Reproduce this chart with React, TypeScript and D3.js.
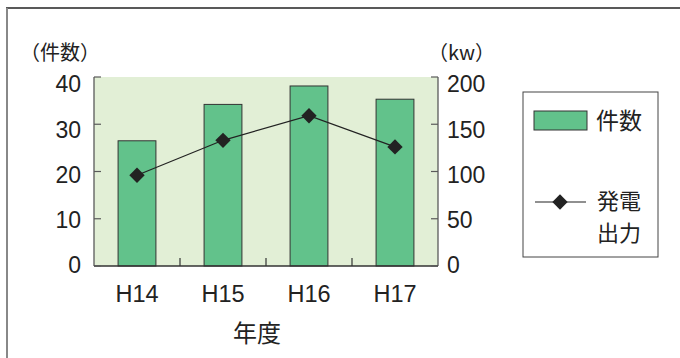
import React from "react";
import * as d3 from "d3";

// Fiscal years and the two series
const categories = ["H14", "H15", "H16", "H17"];
const counts = [26.5, 34.2, 38.1, 35.3]; // 件数
const output = [96, 133, 159, 126]; // 発電出力 (kw)
const leftTicks = [0, 10, 20, 30, 40];
const rightTicks = [0, 50, 100, 150, 200];

const W = 680;
const H = 358;
const plot = { left: 94, right: 438, top: 77, bottom: 266 };
const FONT = "'Liberation Sans', Arial, 'Noto Sans CJK JP', sans-serif";
const CJK = "'Noto Sans CJK JP', sans-serif";

export default function App() {
  const x = d3
    .scaleBand<string>()
    .domain(categories)
    .range([plot.left, plot.right])
    .paddingInner(0.56)
    .paddingOuter(0.28);
  const band = d3.scaleBand<string>().domain(categories).range([plot.left, plot.right]);
  const yL = d3.scaleLinear().domain([0, 40]).range([plot.bottom, plot.top]);
  const yR = d3.scaleLinear().domain([0, 200]).range([plot.bottom, plot.top]);
  // tick labels sit on a slightly compressed scale
  const labL = d3.scaleLinear().domain([0, 40]).range([265, 84]);
  const labR = d3.scaleLinear().domain([0, 200]).range([265, 84]);

  const cx = (c: string) => (band(c) as number) + band.bandwidth() / 2;
  const line = d3
    .line<number>()
    .x((_, i) => cx(categories[i]))
    .y((d) => yR(d));

  const diamond = d3.symbol().type(d3.symbolDiamond2).size(150)();
  const axisColor = "#5a5a5a";

  return (
    <div style={{ position: "absolute", left: 0, top: 0 }}>
      <svg width={W} height={H} style={{ display: "block", background: "#fff" }}>
        {/* outer frame */}
        <line x1={6} x2={W} y1={8} y2={8} stroke="#222" strokeWidth={1.4} />
        <line x1={7} x2={7} y1={8} y2={H} stroke="#888" strokeWidth={2} />

        {/* plot background */}
        <rect
          x={plot.left}
          y={plot.top}
          width={plot.right - plot.left}
          height={plot.bottom - plot.top}
          fill="#e2efd6"
        />

        {/* bars */}
        {counts.map((v, i) => (
          <rect
            key={categories[i]}
            x={x(categories[i])}
            y={yL(v)}
            width={x.bandwidth()}
            height={plot.bottom - yL(v)}
            fill="#62c28b"
            stroke="#333"
            strokeWidth={1}
          />
        ))}

        {/* axes */}
        <line x1={plot.left} x2={plot.left} y1={plot.top} y2={plot.bottom} stroke={axisColor} strokeWidth={1.3} />
        <line x1={plot.right} x2={plot.right} y1={plot.top} y2={plot.bottom} stroke={axisColor} strokeWidth={1.3} />
        <line x1={plot.left} x2={plot.right} y1={plot.bottom} y2={plot.bottom} stroke="#333" strokeWidth={1.3} />
        {leftTicks.map((t) => (
          <g key={"l" + t}>
            <line x1={plot.left} x2={plot.left + 7} y1={yL(t)} y2={yL(t)} stroke={axisColor} strokeWidth={1.2} />
            <text x={81} y={labL(t)} dy="0.36em" textAnchor="end" fontFamily={FONT} fontSize={23} fill="#222">
              {t}
            </text>
          </g>
        ))}
        {rightTicks.map((t) => (
          <g key={"r" + t}>
            <line x1={plot.right - 7} x2={plot.right} y1={yR(t)} y2={yR(t)} stroke={axisColor} strokeWidth={1.2} />
            <text x={447} y={labR(t)} dy="0.36em" textAnchor="start" fontFamily={FONT} fontSize={23} fill="#222">
              {t}
            </text>
          </g>
        ))}
        {categories.slice(1).map((c) => (
          <line
            key={"t" + c}
            x1={band(c)}
            x2={band(c)}
            y1={plot.bottom}
            y2={plot.bottom - 8}
            stroke="#333"
            strokeWidth={1.2}
          />
        ))}
        {categories.map((c) => (
          <text key={"c" + c} x={cx(c)} y={302} textAnchor="middle" fontFamily={FONT} fontSize={23.5} fill="#222">
            {c}
          </text>
        ))}

        {/* line series */}
        <path d={line(output) as string} fill="none" stroke="#222" strokeWidth={1.2} />
        {output.map((v, i) => (
          <path key={"p" + i} d={diamond as string} transform={`translate(${cx(categories[i])},${yR(v)})`} fill="#222" />
        ))}

        {/* axis titles */}
        <text x={20} y={53} dy="0.35em" fontFamily={CJK} fontSize={20} fill="#222">
          （件数）
        </text>
        <text x={428} y={53} dy="0.35em" fontFamily={CJK} fontSize={20} fill="#222">
          （kw）
        </text>
        <text x={257} y={334} dy="0.35em" textAnchor="middle" fontFamily={CJK} fontSize={24} fill="#222">
          年度
        </text>

        {/* legend */}
        <rect x={523} y={92} width={135} height={165} fill="#fff" stroke="#444" strokeWidth={1} />
        <rect x={534} y={111} width={53} height={19} fill="#62c28b" stroke="#333" strokeWidth={1} />
        <text x={596} y={120.5} dy="0.35em" fontFamily={CJK} fontSize={23} fill="#222">
          件数
        </text>
        <line x1={535} x2={586} y1={202} y2={202} stroke="#222" strokeWidth={1.2} />
        <path d={diamond as string} transform="translate(560,202)" fill="#222" />
        <text x={597} y={201} dy="0.35em" fontFamily={CJK} fontSize={22} fill="#222">
          発電
        </text>
        <text x={597} y={233.5} dy="0.35em" fontFamily={CJK} fontSize={22} fill="#222">
          出力
        </text>
      </svg>
    </div>
  );
}
